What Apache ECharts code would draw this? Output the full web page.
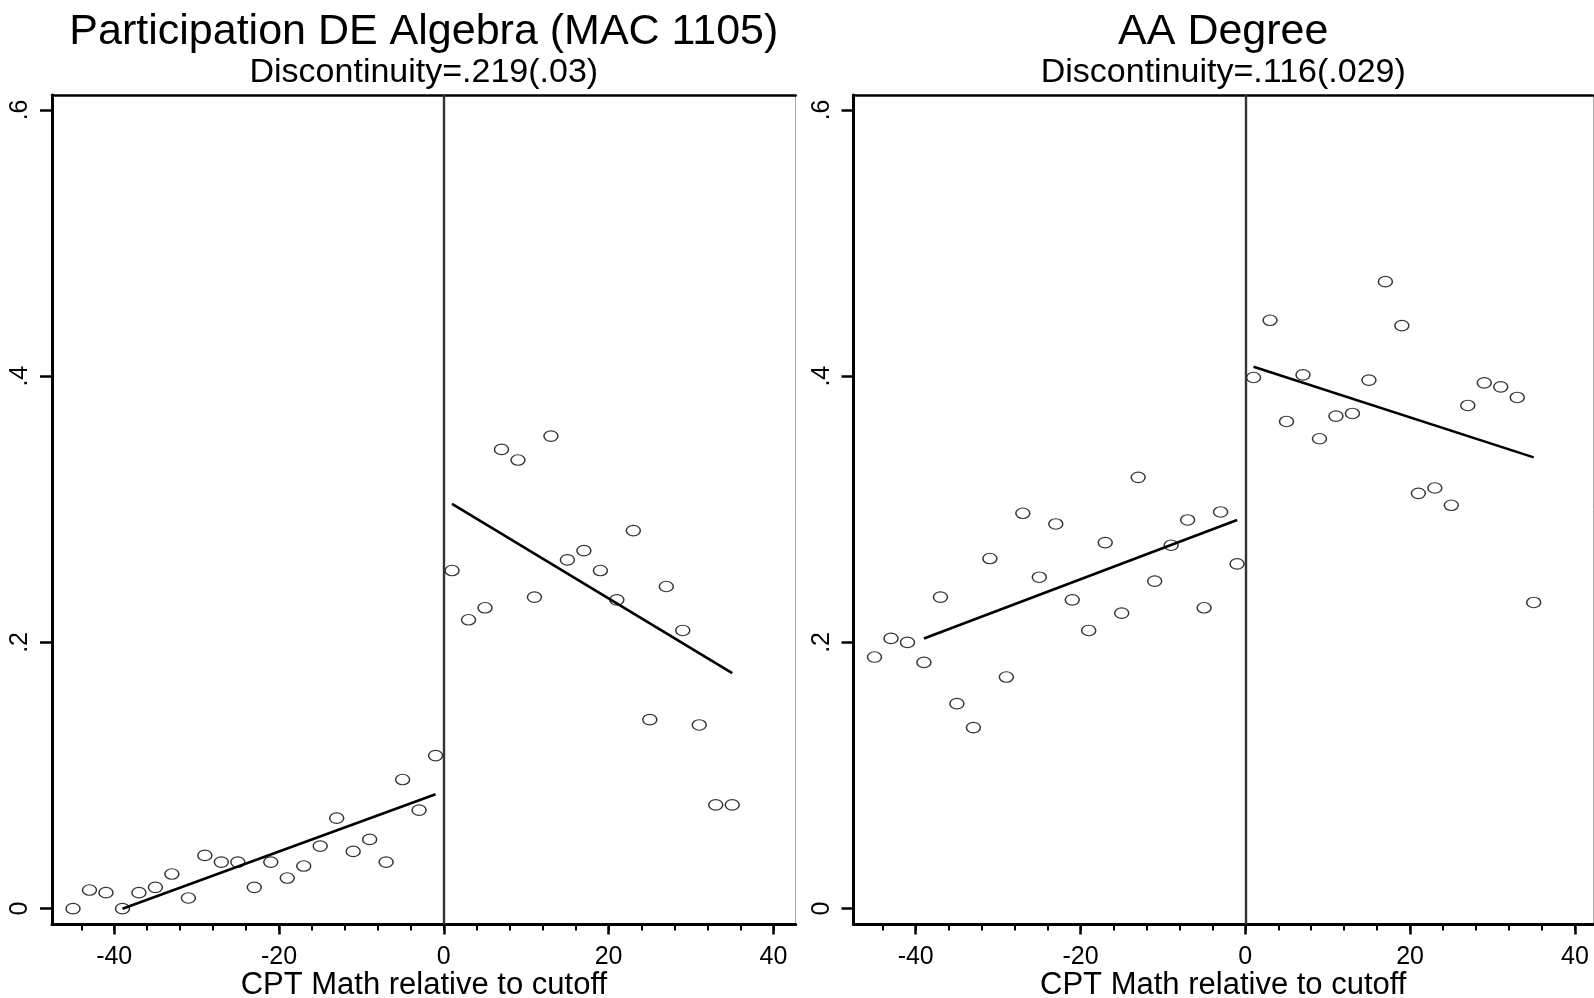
<!DOCTYPE html>
<html>
<head>
<meta charset="utf-8">
<title>Participation DE Algebra / AA Degree</title>
<script src="https://cdn.jsdelivr.net/npm/echarts@6/dist/echarts.min.js"></script>
<style>
  html, body { margin: 0; padding: 0; background: #fff; }
  #chart { width: 1594px; height: 998px; }
</style>
</head>
<body>
<div id="chart"></div>
<script>
// data: bin midpoints and bin means
const binsBelow = [-45, -43, -41, -39, -37, -35, -33, -31, -29, -27, -25, -23, -21, -19, -17, -15, -13, -11, -9, -7, -5, -3, -1];
const binsAbove = [1, 3, 5, 7, 9, 11, 13, 15, 17, 19, 21, 23, 25, 27, 29, 31, 33, 35];

const deBelow = [0.000, 0.014, 0.012, 0.000, 0.012, 0.016, 0.026, 0.008, 0.040, 0.035, 0.035, 0.016, 0.035, 0.023, 0.032, 0.047, 0.068, 0.043, 0.052, 0.035, 0.097, 0.074, 0.115];
const deAbove = [0.254, 0.217, 0.226, 0.345, 0.337, 0.234, 0.355, 0.262, 0.269, 0.254, 0.232, 0.284, 0.142, 0.242, 0.209, 0.138, 0.078, 0.078];
const aaBelow = [0.189, 0.203, 0.200, 0.185, 0.234, 0.154, 0.136, 0.263, 0.174, 0.297, 0.249, 0.289, 0.232, 0.209, 0.275, 0.222, 0.324, 0.246, 0.273, 0.292, 0.226, 0.298, 0.259];
const aaAbove = [0.399, 0.442, 0.366, 0.401, 0.353, 0.370, 0.372, 0.397, 0.471, 0.438, 0.312, 0.316, 0.303, 0.378, 0.395, 0.392, 0.384, 0.230];

// fitted lines (end points)
const fitBelowX = [-39, -1];
const fitAboveX = [1, 35];
const deFitBelow = [0.000, 0.086];
const deFitAbove = [0.304, 0.177];
const aaFitBelow = [0.203, 0.292];
const aaFitAbove = [0.407, 0.339];

// ticks
const xMajorTicks = [-40, -20, 0, 20, 40];
const xTickLabels = ['-40', '-20', '0', '20', '40'];
const xMinorFrom = -44;
const xMinorTo = 40;
const xMinorStep = 4;
const yTicks = [0, 0.2, 0.4, 0.6];
const yTickLabels = ['0', '.2', '.4', '.6'];

const titles = ['Participation DE Algebra (MAC 1105)', 'AA Degree'];
const subtitles = ['Discontinuity=.219(.03)', 'Discontinuity=.116(.029)'];
const xTitle = 'CPT Math relative to cutoff';

// layout
const FONT = '"Liberation Sans", Arial, Helvetica, sans-serif';
const PX_PER_X = 8.24;
const PX_PER_Y = 1331.2;
const X_MIN = -47.55;
const Y_MIN = -0.0119;
const FRAME_TOP = 95;
const FRAME_BOTTOM = 924.5;
const FRAME_H = FRAME_BOTTOM - FRAME_TOP;
const Y_MAX = Y_MIN + FRAME_H / PX_PER_Y;
const panels = [
  { left: 52, width: 743.7 },
  { left: 853.5, width: 739.5 }
];

const pairs = (xs, ys) => xs.map((x, i) => [x, ys[i]]);
const lookup = (ticks, labels) => v => {
  const i = ticks.findIndex(t => Math.abs(t - v) < 1e-6);
  return i < 0 ? '' : labels[i];
};

const grids = [], xAxes = [], yAxes = [], series = [], graphics = [];
const hidden = { show: false };

panels.forEach((p, k) => {
  const g = k * 4;
  const a = k * 5;
  const zeroPx = p.left - X_MIN * PX_PER_X;
  const xMax = X_MIN + p.width / PX_PER_X;
  const y0Px = FRAME_BOTTOM + Y_MIN * PX_PER_Y;
  const yTopPx = y0Px - yTicks[yTicks.length - 1] * PX_PER_Y;
  const box = (left, top, width, height) => ({ left, top, width, height, outerBoundsMode: 'none', containLabel: false });

  grids.push(
    box(p.left, FRAME_TOP, p.width, FRAME_H),
    box(zeroPx + xMinorFrom * PX_PER_X, FRAME_TOP, (xMinorTo - xMinorFrom) * PX_PER_X, FRAME_H),
    box(zeroPx + xMajorTicks[0] * PX_PER_X, FRAME_TOP, (xMajorTicks[xMajorTicks.length - 1] - xMajorTicks[0]) * PX_PER_X, FRAME_H),
    box(p.left, yTopPx, p.width, y0Px - yTopPx)
  );

  // x axes: frame bottom, frame top, minor ticks, major ticks, dummy
  xAxes.push(
    {
      type: 'value', gridIndex: g, min: X_MIN, max: xMax, position: 'bottom',
      axisLine: { onZero: false, lineStyle: { color: '#000', width: 3 } },
      axisTick: hidden, axisLabel: hidden, splitLine: hidden,
      name: xTitle, nameLocation: 'middle', nameGap: 45,
      nameTextStyle: { fontSize: 31, fontFamily: FONT, color: '#000' }
    },
    {
      type: 'value', gridIndex: g, min: X_MIN, max: xMax, position: 'top',
      axisLine: { onZero: false, lineStyle: { color: '#000', width: 2.5 } },
      axisTick: hidden, axisLabel: hidden, splitLine: hidden
    },
    {
      type: 'value', gridIndex: g + 1, min: xMinorFrom, max: xMinorTo, interval: xMinorStep, position: 'bottom',
      axisLine: { show: false, onZero: false },
      axisTick: { show: true, length: 6, lineStyle: { color: '#000', width: 2 } },
      axisLabel: hidden, splitLine: hidden
    },
    {
      type: 'value', gridIndex: g + 2, min: xMajorTicks[0], max: xMajorTicks[xMajorTicks.length - 1],
      interval: xMajorTicks[1] - xMajorTicks[0], position: 'bottom',
      axisLine: { show: false, onZero: false },
      axisTick: { show: true, length: 10, lineStyle: { color: '#000', width: 2.5 } },
      axisLabel: { margin: 20, fontSize: 25, fontFamily: FONT, color: '#000', formatter: lookup(xMajorTicks, xTickLabels) },
      splitLine: hidden
    },
    { type: 'value', gridIndex: g + 3, show: false }
  );

  // y axes: frame left, frame right, dummy, dummy, ticks
  yAxes.push(
    {
      type: 'value', gridIndex: g, min: Y_MIN, max: Y_MAX, position: 'left',
      axisLine: { show: true, onZero: false, lineStyle: { color: '#000', width: 3 } },
      axisTick: hidden, axisLabel: hidden, splitLine: hidden
    },
    {
      type: 'value', gridIndex: g, min: Y_MIN, max: Y_MAX, position: 'right',
      axisLine: { show: true, onZero: false, lineStyle: { color: '#a8a8a8', width: 1 } },
      axisTick: hidden, axisLabel: hidden, splitLine: hidden
    },
    { type: 'value', gridIndex: g + 1, show: false },
    { type: 'value', gridIndex: g + 2, show: false },
    {
      type: 'value', gridIndex: g + 3, min: yTicks[0], max: yTicks[yTicks.length - 1],
      interval: yTicks[1] - yTicks[0], position: 'left',
      axisLine: { show: false, onZero: false },
      axisTick: { show: true, length: 12, lineStyle: { color: '#000', width: 2.5 } },
      axisLabel: { rotate: 90, margin: 19, fontSize: 25, fontFamily: FONT, color: '#000', formatter: lookup(yTicks, yTickLabels) },
      splitLine: hidden
    }
  );

  const below = k === 0 ? deBelow : aaBelow;
  const above = k === 0 ? deAbove : aaAbove;
  const fitB = k === 0 ? deFitBelow : aaFitBelow;
  const fitA = k === 0 ? deFitAbove : aaFitAbove;

  const marker = {
    type: 'scatter', xAxisIndex: a, yAxisIndex: a,
    symbol: 'path://M0,50 C0,22.4 22.4,0 50,0 C77.6,0 100,22.4 100,50 C100,77.6 77.6,100 50,100 C22.4,100 0,77.6 0,50 Z',
    symbolSize: [14, 10.5],
    itemStyle: { color: 'rgba(0,0,0,0)', borderColor: '#000', borderWidth: 1.3 },
    silent: true
  };
  series.push(
    Object.assign({}, marker, {
      data: pairs(binsBelow, below),
      markLine: {
        silent: true, symbol: ['none', 'none'], label: { show: false },
        lineStyle: { color: '#333', width: 2.4, type: 'solid' },
        data: [{ xAxis: 0 }]
      }
    }),
    Object.assign({}, marker, { data: pairs(binsAbove, above) }),
    {
      type: 'line', xAxisIndex: a, yAxisIndex: a, data: pairs(fitBelowX, fitB),
      symbol: 'none', lineStyle: { color: '#000', width: 2.6 }, silent: true
    },
    {
      type: 'line', xAxisIndex: a, yAxisIndex: a, data: pairs(fitAboveX, fitA),
      symbol: 'none', lineStyle: { color: '#000', width: 2.6 }, silent: true
    }
  );

  const cx = p.left + p.width / 2;
  graphics.push(
    {
      type: 'text', x: cx, y: 11,
      style: { text: titles[k], fontSize: 43, fontFamily: FONT, fill: '#000',
        align: 'center', verticalAlign: 'top', textAlign: 'center', textVerticalAlign: 'top' }
    },
    {
      type: 'text', x: cx, y: 56,
      style: { text: subtitles[k], fontSize: 34, fontFamily: FONT, fill: '#000',
        align: 'center', verticalAlign: 'top', textAlign: 'center', textVerticalAlign: 'top' }
    }
  );
});

const chart = echarts.init(document.getElementById('chart'));
chart.setOption({
  animation: false,
  backgroundColor: '#fff',
  grid: grids,
  xAxis: xAxes,
  yAxis: yAxes,
  series: series,
  graphic: graphics
});
</script>
</body>
</html>
